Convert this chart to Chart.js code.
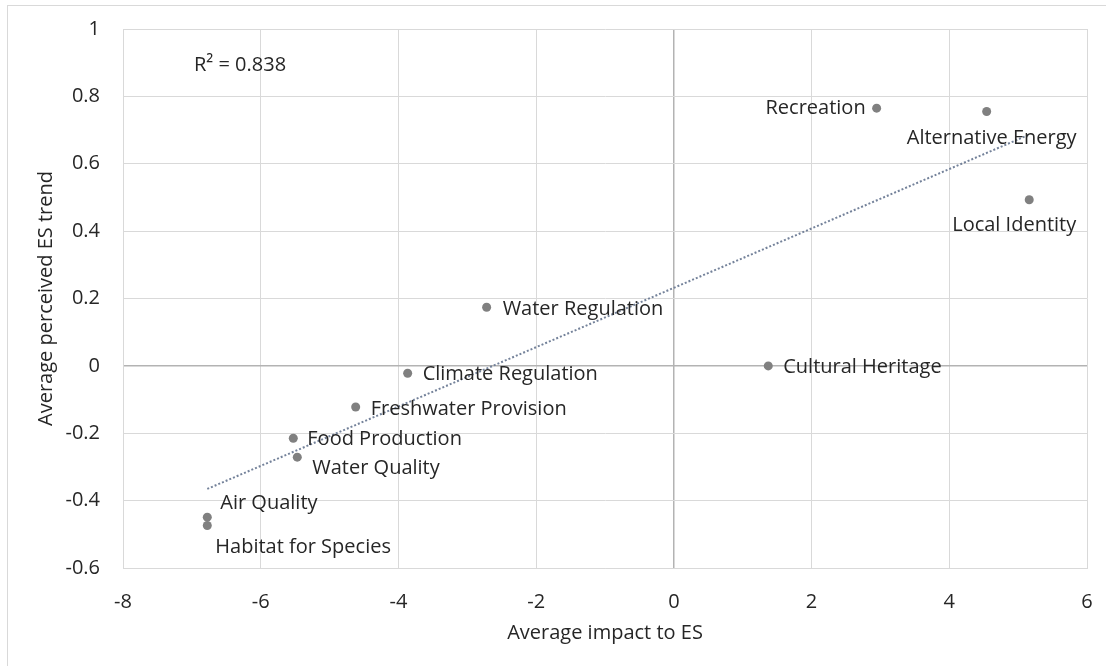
<!DOCTYPE html>
<html>
<head>
<meta charset="utf-8">
<script src="https://cdn.jsdelivr.net/npm/chart.js@4.4.1/dist/chart.umd.min.js"></script>
<style>
  html, body { margin: 0; padding: 0; background: #ffffff; }
  #wrap { position: relative; width: 1106px; height: 666px; overflow: hidden; }
  #frame { position: absolute; left: 7px; top: 5px; width: 1200px; height: 800px;
           border-left: 1px solid #d9d9d9; border-top: 1px solid #d9d9d9; pointer-events: none; }
  canvas { position: absolute; left: 0; top: 0; }
</style>
</head>
<body>
<div id="wrap">
  <div id="frame"></div>
  <canvas id="c" width="1106" height="666"></canvas>
</div>
<script>
// ---- data ----
const categories = [
  "Recreation", "Alternative Energy", "Local Identity", "Water Regulation",
  "Climate Regulation", "Cultural Heritage", "Freshwater Provision",
  "Food Production", "Water Quality", "Air Quality", "Habitat for Species"
];
const impactValues = [2.945, 4.543, 5.161, -2.719, -3.866, 1.371, -4.621, -5.527, -5.469, -6.776, -6.776];
const trendValues  = [0.765, 0.755, 0.493, 0.174, -0.022, 0.000, -0.122, -0.215, -0.271, -0.449, -0.474];
const xTickLabels = ["-8", "-6", "-4", "-2", "0", "2", "4", "6"];
const yTickLabels = ["-0.6", "-0.4", "-0.2", "0", "0.2", "0.4", "0.6", "0.8", "1"];
const rSquaredText = "R\u00B2 = 0.838";
const xTitle = "Average impact to ES";
const yTitle = "Average perceived ES trend";

// ---- label placement (style, pixels relative to the point) ----
const labelPlacement = [
  { dx: -11, dy: 0,  align: "right"  },
  { dx: 5,   dy: 27, align: "center" },
  { dx: -15, dy: 26, align: "center" },
  { dx: 16,  dy: 2,  align: "left"   },
  { dx: 15,  dy: 1,  align: "left"   },
  { dx: 15,  dy: 1,  align: "left"   },
  { dx: 15,  dy: 2,  align: "left"   },
  { dx: 14,  dy: 1,  align: "left"   },
  { dx: 15,  dy: 11, align: "left"   },
  { dx: 13,  dy: -14, align: "left"  },
  { dx: 8,   dy: 22, align: "left"   }
];

const FONT = "'Open Sans', 'Noto Sans', sans-serif";
const TEXT = "#262626";

// points
const points = impactValues.map((x, i) => ({ x: x, y: trendValues[i] }));

// least-squares linear trendline over the data range
const n = impactValues.length;
const mx = impactValues.reduce((a, b) => a + b, 0) / n;
const my = trendValues.reduce((a, b) => a + b, 0) / n;
let sxy = 0, sxx = 0;
for (let i = 0; i < n; i++) {
  sxy += (impactValues[i] - mx) * (trendValues[i] - my);
  sxx += (impactValues[i] - mx) * (impactValues[i] - mx);
}
const slope = sxy / sxx;
const intercept = my - slope * mx;
const xmin = Math.min(...impactValues), xmax = Math.max(...impactValues);
const trendPoints = [
  { x: xmin, y: intercept + slope * xmin },
  { x: xmax, y: intercept + slope * xmax }
];

const labelPlugin = {
  id: "pointLabels",
  afterDatasetsDraw(chart) {
    const ctx = chart.ctx;
    const meta = chart.getDatasetMeta(1);
    ctx.save();
    ctx.font = "20px " + FONT;
    ctx.fillStyle = TEXT;
    ctx.textBaseline = "middle";
    meta.data.forEach((el, i) => {
      const p = labelPlacement[i];
      ctx.textAlign = p.align;
      ctx.fillText(categories[i], el.x + p.dx, el.y + p.dy);
    });
    // R squared annotation
    const area = chart.chartArea;
    ctx.textAlign = "left";
    ctx.fillText(rSquaredText, area.left + 71, area.top + 36);
    ctx.restore();
  }
};

function fmtTick(labels, min, step) {
  return function (v) {
    const idx = Math.round((v - min) / step);
    return labels[idx] !== undefined ? labels[idx] : "";
  };
}

new Chart(document.getElementById("c"), {
  type: "scatter",
  data: {
    datasets: [
      {
        label: "Linear trend",
        data: trendPoints,
        showLine: true,
        borderColor: "#74829a",
        borderWidth: 2,
        borderDash: [2, 2],
        pointRadius: 0,
        pointHoverRadius: 0,
        fill: false
      },
      {
        label: "ES",
        data: points,
        backgroundColor: "#808080",
        borderColor: "#808080",
        pointRadius: 4.5,
        pointHoverRadius: 4.5,
        borderWidth: 0
      }
    ]
  },
  options: {
    responsive: false,
    animation: false,
    events: [],
    layout: { padding: { top: 29, right: 19, left: 0, bottom: 0 } },
    plugins: { legend: { display: false }, tooltip: { enabled: false } },
    scales: {
      x: {
        type: "linear",
        min: -8, max: 6,
        afterFit(scale) { scale.height = 98; },
        ticks: {
          stepSize: 2,
          padding: 3,
          color: TEXT,
          font: { family: FONT, size: 20 },
          callback: fmtTick(xTickLabels, -8, 2)
        },
        grid: {
          drawTicks: true,
          tickLength: 19,
          tickColor: "rgba(0,0,0,0)",
          color: (c) => (c.tick && c.tick.value === 0 ? "#b3b3b3" : "#d9d9d9"),
          lineWidth: (c) => (c.tick && c.tick.value === 0 ? 1.5 : 1)
        },
        border: { display: true, color: "#d9d9d9" },
        title: {
          display: true,
          text: xTitle,
          color: TEXT,
          font: { family: FONT, size: 20 },
          padding: { top: 0, bottom: 21 }
        }
      },
      y: {
        type: "linear",
        min: -0.6, max: 1,
        afterFit(scale) { scale.width = 123; },
        ticks: {
          stepSize: 0.2,
          padding: 3,
          color: TEXT,
          font: { family: FONT, size: 20 },
          callback: fmtTick(yTickLabels, -0.6, 0.2)
        },
        grid: {
          drawTicks: true,
          tickLength: 20,
          tickColor: "rgba(0,0,0,0)",
          color: (c) => (c.tick && Math.abs(c.tick.value) < 1e-9 ? "#b3b3b3" : "#d9d9d9"),
          lineWidth: (c) => (c.tick && Math.abs(c.tick.value) < 1e-9 ? 1.5 : 1)
        },
        border: { display: true, color: "#d9d9d9" },
        title: {
          display: true,
          text: yTitle,
          color: TEXT,
          font: { family: FONT, size: 20 },
          padding: { top: 34, bottom: 0 }
        }
      }
    }
  },
  plugins: [labelPlugin]
});
</script>
</body>
</html>
